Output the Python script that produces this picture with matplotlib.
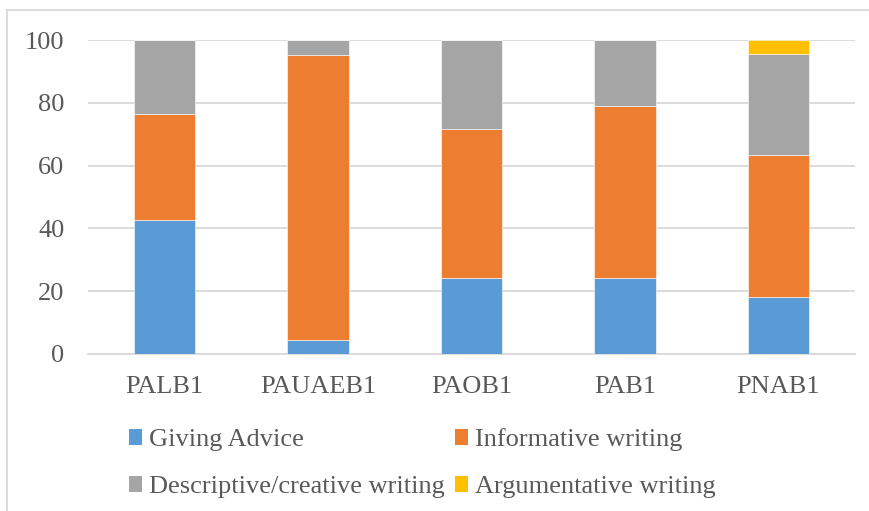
import numpy as np
import matplotlib.pyplot as plt
from matplotlib.lines import Line2D
from matplotlib.patches import Patch

categories = ["PALB1", "PAUAEB1", "PAOB1", "PAB1", "PNAB1"]
series_names = ["Giving Advice", "Informative writing",
                "Descriptive/creative writing", "Argumentative writing"]
giving_advice = [42.8, 4.5, 24.3, 24.3, 18.1]
informative = [33.7, 90.6, 47.5, 54.8, 45.3]
descriptive = [23.5, 4.9, 28.2, 20.9, 32.2]
argumentative = [0.0, 0.0, 0.0, 0.0, 4.4]
colors = ["#5B9BD5", "#ED7D31", "#A5A5A5", "#FFC000"]
y_ticks = [0, 20, 40, 60, 80, 100]

plt.rcParams['font.family'] = ['Liberation Serif', 'DejaVu Serif']
text_color = "#595959"

fig = plt.figure(figsize=(8.69, 5.11), dpi=100)
ax = fig.add_axes([88 / 869, 1 - 354 / 511, (855 - 88) / 869, (354 - 40) / 511])

x = np.arange(len(categories))
bottom = np.zeros(len(categories))
handles = []
for name, vals, c in zip(series_names,
                         [giving_advice, informative, descriptive, argumentative],
                         colors):
    vals = np.array(vals)
    ax.bar(x, vals, width=0.4, bottom=bottom, color=c, zorder=3,
           edgecolor="white", linewidth=0.4)
    bottom += vals
    handles.append(Patch(facecolor=c, edgecolor="none", label=name))

ax.set_xlim(-0.5, len(categories) - 0.5)
ax.set_ylim(0, 100)
ax.set_yticks(y_ticks)
ax.set_xticks(x)
ax.set_xticklabels(categories)
ax.tick_params(axis="both", length=0, labelsize=19, colors=text_color)
ax.tick_params(axis="y", pad=17)
ax.tick_params(axis="x", pad=16)
ax.grid(axis="y", color="#D9D9D9", linewidth=1.3, zorder=0)
for side in ["top", "right", "left"]:
    ax.spines[side].set_visible(False)
ax.spines["bottom"].set_color("#D9D9D9")
ax.spines["bottom"].set_linewidth(1.3)

# legend laid out row by row
order = [0, 2, 1, 3]
leg = fig.legend([handles[i] for i in order], [series_names[i] for i in order],
                 ncol=2, loc="upper left", bbox_to_anchor=(129 / 869, 1 - 428 / 511),
                 frameon=False, fontsize=19, handlelength=0.5, handleheight=0.55,
                 handletextpad=0.25, columnspacing=0.4, labelspacing=0.95,
                 borderaxespad=0, borderpad=0)
for t in leg.get_texts():
    t.set_color(text_color)

# chart area border
fig.add_artist(Line2D([6.5 / 869, 6.5 / 869], [0, 1 - 10.5 / 511],
                      transform=fig.transFigure, color="#D9D9D9", linewidth=1.3))
fig.add_artist(Line2D([6.5 / 869, 1], [1 - 10.5 / 511, 1 - 10.5 / 511],
                      transform=fig.transFigure, color="#D9D9D9", linewidth=1.3))

fig.savefig("out.png", dpi=100)
